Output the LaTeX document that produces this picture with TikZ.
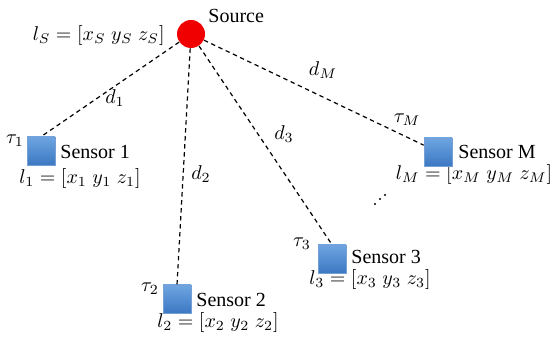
\documentclass[tikz,border=0pt]{standalone}
\usepackage{fontspec}
\setmainfont{Liberation Serif}
\usetikzlibrary{positioning}
\definecolor{srcred}{RGB}{240,0,0}
\definecolor{senstop}{RGB}{110,165,225}
\definecolor{sensbot}{RGB}{60,120,195}
\tikzset{
  sensor/.style={minimum size=14pt, inner sep=0pt, top color=senstop, bottom color=sensbot, draw=sensbot!70!white, line width=0.3pt},
  link/.style={dash pattern=on 2.2pt off 1.8pt, line width=0.6pt},
  lbl/.style={inner sep=1pt, font=\fontsize{10}{12}\selectfont}
}
\begin{document}
\begin{tikzpicture}[x=0.5pt, y=-0.5pt]
\useasboundingbox (0,0) rectangle (555,340);
% Source
				\node[circle, fill=srcred, minimum size=14pt, inner sep=0pt] (src) at (191,34) {};
				\node[lbl, anchor=west] (srcname) at (206,16) {Source};
				\node[lbl, anchor=east] (srcpos) at (167,36) {$l_S=[x_S\;y_S\;z_S]$};
% Sensor names and positions
				\node[lbl] (p1) at (80,179) {$l_1=[x_1\;y_1\;z_1]$};
				\node[lbl] (p2) at (218,323) {$l_2=[x_2\;y_2\;z_2]$};
				\node[lbl] (p3) at (370,280) {$l_3=[x_3\;y_3\;z_3]$};
				\node[lbl] (pM) at (474,175) {$l_M=[x_M\;y_M\;z_M]$};
% Sensors
				\node[sensor] (s1) at (41,151) {};
				\node[sensor] (s2) at (177,299) {};
				\node[sensor] (s3) at (332,259) {};
				\node[sensor] (sM) at (438,152) {};
				\node[lbl, anchor=west] (n1) at (58,152) {Sensor 1};
				\node[lbl] (t1) at (15,141) {$\tau_1$};
				\node[lbl, anchor=west] (n2) at (194,300) {Sensor 2};
				\node[lbl] (t2) at (150,289) {$\tau_2$};
				\node[lbl, anchor=west] (n3) at (349,257) {Sensor 3};
				\node[lbl] (t3) at (302,244) {$\tau_3$};
				\node[lbl, anchor=west] (nM) at (456,152) {Sensor M};
				\node[lbl] (tM) at (407,120) {$\tau_M$};
% Links
				\draw[link] (src) -- (s1.north);
				\draw[link] (src) -- (s2.north);
				\draw[link] (src) -- (s3.north);
				\draw[link] (src) -- (sM);
				\node[lbl] (d1) at (115,98) {$d_1$};
				\node[lbl] (d2) at (201,174) {$d_2$};
				\node[lbl] (d3) at (284,134) {$d_3$};
				\node[lbl] (dM) at (323,70) {$d_M$};
% Dots
				\foreach \p in {(375,204),(380,199),(385,195)}
					\fill \p circle (0.6pt);
\end{tikzpicture}
\end{document}
